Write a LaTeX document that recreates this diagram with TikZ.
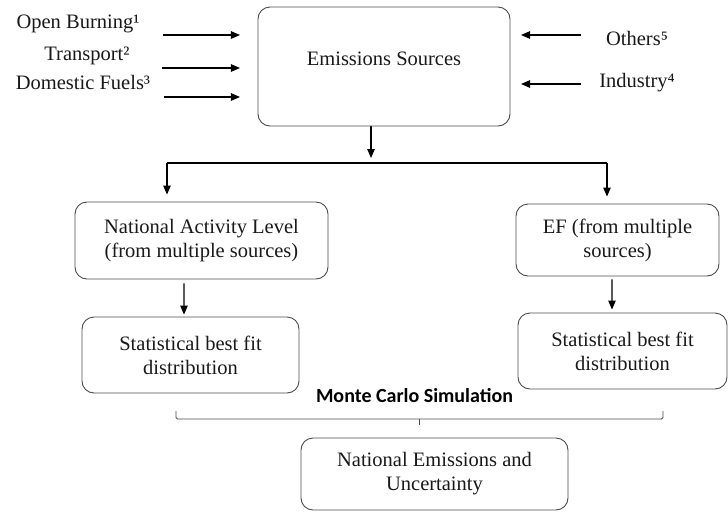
\documentclass[tikz,border=0pt]{standalone}
\usepackage{fontspec}
\setmainfont{Liberation Serif}
\newfontfamily\mcfont{Carlito}
\usetikzlibrary{arrows.meta}
\pgfdeclarelayer{bg}
\pgfsetlayers{bg,main}
\tikzset{
        box/.style={draw=black!70, line width=0.9pt, rounded corners=12pt, align=center, inner sep=0pt, text=black!90, font=\fontsize{20.5}{24}\selectfont},
        tag/.style={inner sep=0pt, text=black!90, font=\fontsize{20.5}{24}\selectfont},
        flow/.style={-{Triangle[length=9pt,width=7.5pt]}, line width=1.1pt},
}
\begin{document}
\begin{tikzpicture}
        \useasboundingbox (-12.793108cm, -8.997350cm) rectangle (12.793108cm, 8.997350cm);
        \node (src) [box, minimum width=252pt, minimum height=119pt, text height=14pt, text depth=17pt] at (0.702918cm, 6.660148cm) {Emissions Sources};
        \node (ob) [tag] at (-10.051727cm, 8.154141cm) {Open Burning¹};
        \node (tr) [tag] at (-9.735414cm, 7.029472cm) {Transport²};
        \node (df) [tag] at (-9.875998cm, 6.115678cm) {Domestic Fuels³};
        \node (ot) [tag] at (9.594831cm, 7.661806cm) {Others⁵};
        \node (ind) [tag] at (9.594831cm, 6.080241cm) {Industry⁴};
        \node (act) [box, minimum width=253pt, minimum height=77pt] at (-5.711209cm, 0.544761cm) {National Activity Level\\(from multiple sources)};
        \node (ef) [box, minimum width=203pt, minimum height=72pt] at (8.909486cm, 0.562334cm) {EF (from multiple\\sources)};
        \node (fitL) [box, minimum width=217pt, minimum height=76pt] at (-6.097814cm, -3.479444cm) {Statistical best fit\\distribution};
        \node (fitR) [box, minimum width=209pt, minimum height=76pt] at (9.085215cm, -3.338861cm) {Statistical best fit\\distribution};
        \node (mc) [inner sep=0pt, font=\fontsize{20}{24}\mcfont\bfseries] at (1.774868cm, -4.920426cm) {Monte Carlo Simulation};
        \node (out) [box, minimum width=267pt, minimum height=72pt] at (2.477786cm, -7.661806cm) {National Emissions and\\Uncertainty};
        % arrow ends
        \coordinate (p0) at (-7.064326cm, 7.767244cm);
        \coordinate (q0) at (-4.358092cm, 7.767244cm);
        \coordinate (p1) at (-7.099472cm, 6.607429cm);
        \coordinate (q1) at (-4.358092cm, 6.607429cm);
        \coordinate (p2) at (-7.029180cm, 5.588198cm);
        \coordinate (q2) at (-4.358092cm, 5.588198cm);
        \coordinate (p3) at (7.626660cm, 7.767244cm);
        \coordinate (q3) at (5.517906cm, 7.767244cm);
        \coordinate (p4) at (7.626660cm, 6.045095cm);
        \coordinate (q4) at (5.517906cm, 6.045095cm);
        \coordinate (split) at (0.246021cm, 3.268569cm);
        \coordinate (jl) at (-6.923742cm, 3.268569cm);
        \coordinate (jr) at (8.540454cm, 3.268569cm);
        \coordinate (bl) at (-6.607429cm, -5.728782cm);
        \coordinate (br) at (10.508624cm, -5.728782cm);
        \coordinate (bm) at (1.933025cm, -5.728782cm);
        \begin{pgfonlayer}{bg}
                \draw (p0) edge [flow] (q0);
                \draw (p1) edge [flow] (q1);
                \draw (p2) edge [flow] (q2);
                \draw (p3) edge [flow] (q3);
                \draw (p4) edge [flow] (q4);
                \draw (src.south -| split) edge [flow, shorten >=5pt] (split);
                \draw (jl) edge [line width=1.1pt] (jr);
                \draw (jl) edge [flow, shorten >=7pt] (jl |- act.north);
                \draw (jr) edge [flow, shorten >=7pt] (jr |- ef.north);
                \draw ([xshift=-17.5pt]act.south) edge [flow, shorten <=4pt, shorten >=2pt] ([xshift=-6.5pt]fitL.north);
                \draw ([xshift=-5.5pt]ef.south) edge [flow, shorten <=3pt, shorten >=3pt] ([xshift=-10.5pt]fitR.north);
                \draw [draw=black!70, line width=0.9pt, rounded corners=1.5pt] ([yshift=8pt]bl) -- (bl) -- (br) -- ([yshift=8pt]br);
                \draw (bm) edge [draw=black!70, line width=0.9pt] ([yshift=-6pt]bm);
        \end{pgfonlayer}
\end{tikzpicture}
\end{document}
